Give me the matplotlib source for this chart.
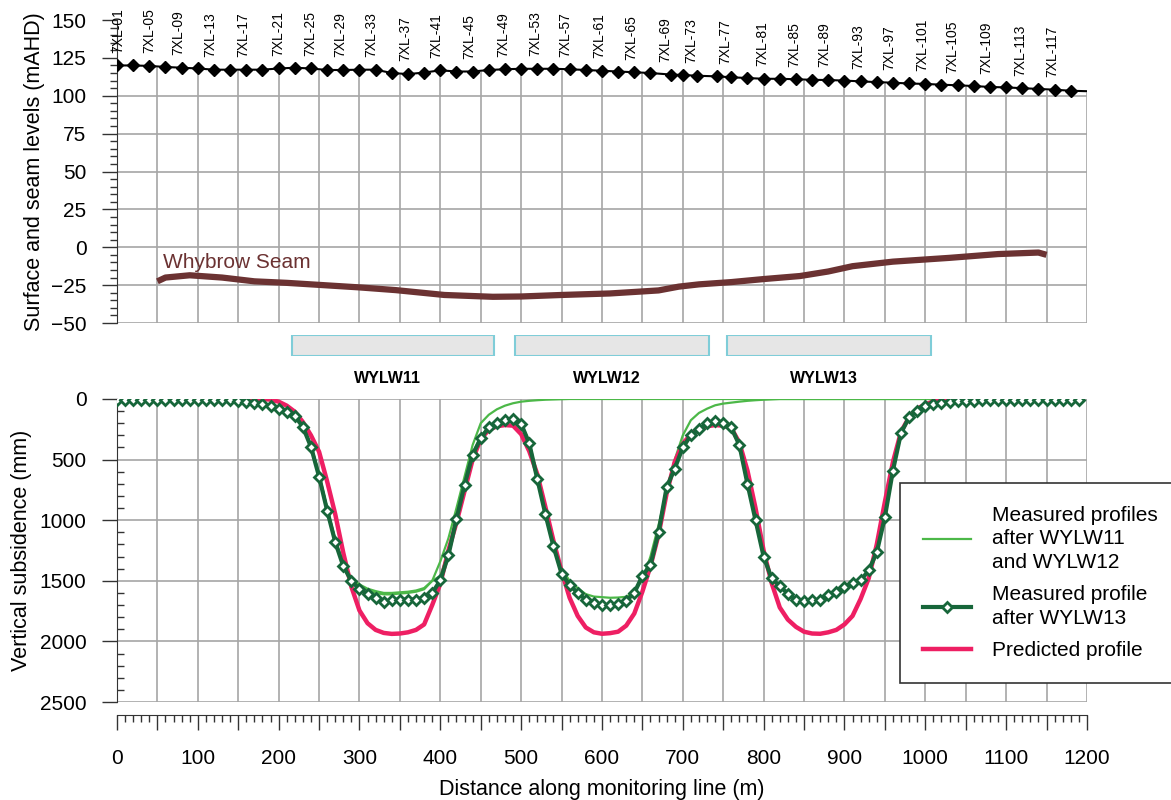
import numpy as np
import matplotlib
matplotlib.use('Agg')
import matplotlib.pyplot as plt
from matplotlib.patches import Rectangle
from matplotlib.ticker import MultipleLocator, FuncFormatter

plt.rcParams['font.family'] = ['Liberation Sans', 'DejaVu Sans']

# surface levels along the line (mAHD)
surf_x = [0, 20, 40, 60, 80, 100, 120, 140, 160, 180, 200, 220, 240, 260, 280, 300,
          320, 340, 360, 380, 400, 420, 440, 460, 480, 500, 520, 540, 560, 580, 600,
          620, 640, 660, 685, 700, 718, 742, 760, 780, 800, 820, 840, 860, 880, 900,
          920, 940, 960, 980, 1000, 1020, 1040, 1060, 1080, 1100, 1120, 1140, 1160, 1180]
surf_z = [120, 120, 119.7, 119, 118.5, 118, 117.2, 117.2, 117.2, 117.2, 118, 118.5, 118, 117, 117, 117.2,
          117.2, 115, 114.3, 115.3, 116.8, 116, 116, 117, 117.5, 117.8, 117.8, 117.8, 117.5, 117, 116.5,
          116, 115.5, 115, 114, 113.7, 113.2, 112.8, 112.2, 111.7, 111.2, 111.2, 110.9, 110.5, 110.4, 110,
          109.5, 109, 108.6, 108.1, 107.8, 107.3, 106.9, 106.4, 105.8, 105.5, 105, 104.5, 104, 103.3]
surf_end_x = 1200
surf_end_z = 103

peg_names = ['7XL-01', '7XL-05', '7XL-09', '7XL-13', '7XL-17', '7XL-21', '7XL-25', '7XL-29',
             '7XL-33', '7XL-37', '7XL-41', '7XL-45', '7XL-49', '7XL-53', '7XL-57', '7XL-61',
             '7XL-65', '7XL-69', '7XL-73', '7XL-77', '7XL-81', '7XL-85', '7XL-89', '7XL-93',
             '7XL-97', '7XL-101', '7XL-105', '7XL-109', '7XL-113', '7XL-117']
peg_x = [2, 40, 76, 116, 156, 199, 239, 276, 315, 357, 395, 436, 478, 518, 554, 597,
         636, 678, 710, 753, 798, 838, 875, 917, 955, 996, 1034, 1076, 1118, 1157]

# Whybrow seam floor
seam_x = [50, 60, 90, 130, 170, 210, 255, 300, 345, 405, 465, 500, 550, 610, 670, 695,
          720, 760, 800, 845, 880, 910, 960, 1030, 1090, 1140, 1150]
seam_z = [-22.5, -20, -18.5, -20, -22.5, -23.5, -25, -26.5, -28.3, -31.5, -32.7, -32.5, -31.5,
          -30.5, -28.5, -26, -24.5, -23, -21, -19, -16, -12.5, -9.5, -7, -4.5, -3.5, -5]

panel_names = ['WYLW11', 'WYLW12', 'WYLW13']
panel_start = [216, 492, 755]
panel_end = [466, 732, 1007]

# subsidence (mm) at 10 m spacing
dist = np.arange(0, 1200, 10)
meas13 = [8, 8, 8, 8, 8, 8, 8, 8, 8, 8, 8, 10, 10, 12, 12,
          15, 25, 35, 45, 60, 80, 105, 140, 230, 395,
          640, 920, 1180, 1380, 1500, 1570, 1610, 1645, 1675, 1660,
          1655, 1655, 1655, 1640, 1600, 1497, 1290, 990, 710, 460,
          325, 235, 195, 175, 168, 205, 365, 660, 950, 1215,
          1440, 1535, 1600, 1655, 1685, 1700, 1703, 1690, 1665, 1600,
          1460, 1370, 1100, 730, 575, 400, 300, 250, 200, 180,
          195, 235, 380, 700, 1000, 1300, 1480, 1545, 1605, 1655,
          1667, 1662, 1656, 1620, 1595, 1555, 1520, 1497, 1415, 1265,
          975, 590, 280, 150, 98, 60, 42, 32, 25, 20,
          18, 15, 12, 12, 10, 10, 8, 8, 8, 6,
          6, 6, 5, 5, 5]
predicted = [0, 0, 0, 0, 0, 0, 0, 0, 0, 0, 0, 0, 0, 0, 0,
             0, 0, 0, 0, 5, 22, 55, 105, 190, 300,
             435, 680, 950, 1270, 1550, 1745, 1850, 1905, 1930, 1938,
             1935, 1925, 1905, 1860, 1700, 1525, 1250, 1020, 760, 500,
             330, 255, 225, 215, 220, 290, 430, 620, 890, 1170,
             1420, 1640, 1790, 1885, 1925, 1937, 1932, 1920, 1870, 1770,
             1590, 1380, 1120, 780, 520, 370, 290, 250, 225, 215,
             220, 240, 360, 590, 900, 1250, 1520, 1720, 1820, 1880,
             1920, 1935, 1937, 1925, 1905, 1860, 1790, 1650, 1480, 1200,
             850, 520, 270, 150, 80, 45, 20, 8, 3, 0,
             0, 0, 0, 0, 0, 0, 0, 0, 0, 0,
             0, 0, 0, 0, 0]
after11 = [5, 5, 5, 5, 5, 5, 5, 5, 5, 5, 5, 5, 5, 5, 5,
           12, 20, 30, 40, 55, 75, 100, 135, 220, 380,
           620, 900, 1160, 1360, 1480, 1530, 1565, 1585, 1600, 1600,
           1595, 1590, 1580, 1560, 1500, 1340, 1150, 900, 640, 380,
           200, 130, 85, 55, 35, 22, 15, 10, 6, 4,
           2, 0, 0, 0, 0, 0, 0, 0, 0, 0,
           0, 0, 0, 0, 0, 0, 0, 0, 0, 0,
           0, 0, 0, 0, 0, 0, 0, 0, 0, 0,
           0, 0, 0, 0, 0, 0, 0, 0, 0, 0,
           0, 0, 0, 0, 0, 0, 0, 0, 0, 0,
           0, 0, 0, 0, 0, 0, 0, 0, 0, 0,
           0, 0, 0, 0, 0]
after12 = [5, 5, 5, 5, 5, 5, 5, 5, 5, 5, 5, 5, 5, 5, 5,
           12, 20, 30, 40, 55, 75, 100, 135, 220, 380,
           620, 900, 1160, 1360, 1490, 1545, 1580, 1600, 1612, 1612,
           1605, 1600, 1590, 1570, 1500, 1460, 1260, 980, 700, 450,
           310, 225, 185, 168, 165, 200, 350, 640, 930, 1190,
           1400, 1500, 1560, 1610, 1630, 1635, 1640, 1638, 1632, 1590,
           1490, 1300, 1040, 760, 500, 300, 175, 115, 80, 52,
           38, 30, 22, 15, 10, 6, 3, 0, 0, 0,
           0, 0, 0, 0, 0, 0, 0, 0, 0, 0,
           0, 0, 0, 0, 0, 0, 0, 0, 0, 0,
           0, 0, 0, 0, 0, 0, 0, 0, 0, 0,
           0, 0, 0, 0, 0]

grid_c = '#a6a6a6'
spine_c = '#333333'
pink = '#ee1f63'
dkgreen = '#17663a'
ltgreen = '#4cb848'
brown = '#6b3232'

fig = plt.figure(figsize=(11.71, 8), dpi=100)
ax1 = fig.add_axes([0.0999, 0.59625, 0.8283, 0.37875])
ax2 = fig.add_axes([0.0999, 0.1225, 0.8283, 0.37875])
axm = fig.add_axes([0.0999, 0.555, 0.8283, 0.02625])

# ---- top panel: surface and seam levels
ax1.set_xlim(0, 1200)
ax1.set_ylim(-50, 150)
for v in range(-50, 150, 25):
    ax1.axhline(v, color=grid_c, lw=1.2, zorder=0.5)
for x in range(50, 1201, 50):
    ax1.axvline(x, color=grid_c, lw=1.2, zorder=0.5)
sx = surf_x + [surf_end_x]
sz = surf_z + [surf_end_z]
ax1.fill_between(sx, sz, 150, color='white', zorder=0.8)
ax1.plot(sx, sz, color='black', lw=1.5, zorder=3)
ax1.plot(surf_x, surf_z, ls='none', marker='D', ms=6, color='black', zorder=4)
ax1.plot(seam_x, seam_z, color=brown, lw=4.5, solid_capstyle='butt', zorder=3)
ax1.text(57, -10, 'Whybrow Seam', color=brown, fontsize=15, va='center', ha='left')
for name, px in zip(peg_names, peg_x):
    ax1.annotate(name, (px, np.interp(px, sx, sz)), xytext=(0, 9), textcoords='offset points',
                 rotation=90, ha='center', va='bottom', fontsize=10, annotation_clip=False)
ax1.yaxis.set_major_locator(MultipleLocator(25))
ax1.yaxis.set_minor_locator(MultipleLocator(5))
ax1.tick_params(axis='y', which='major', length=11, width=1, labelsize=15, pad=11, color=spine_c)
ax1.tick_params(axis='y', which='minor', length=5, width=1, color=spine_c)
ax1.tick_params(axis='x', which='both', bottom=False, labelbottom=False)
for s in ['top', 'right', 'bottom']:
    ax1.spines[s].set_visible(False)
ax1.spines['left'].set_color(spine_c)
ax1.set_ylabel('Surface and seam levels (mAHD)', fontsize=15.5)
ax1.yaxis.set_label_coords(-0.074, 0.5)

# ---- longwall panels
axm.set_xlim(0, 1200)
axm.set_ylim(0, 1)
axm.axis('off')
for name, a, b in zip(panel_names, panel_start, panel_end):
    axm.add_patch(Rectangle((a, 0), b - a, 1, facecolor='#e6e6e6', edgecolor='#7fcdd8', lw=1.5))
    axm.text((a + b) / 2 - 6, -1.05, name, ha='center', va='center', fontsize=11.5, fontweight='bold')

# ---- bottom panel: subsidence
ax2.set_xlim(0, 1200)
ax2.set_ylim(2500, 0)
for v in range(0, 2501, 500):
    ax2.axhline(v, color=grid_c, lw=1.2, zorder=0.5)
for x in range(50, 1201, 50):
    ax2.axvline(x, color=grid_c, lw=1.2, zorder=0.5)
l11, = ax2.plot(dist, after11, color=ltgreen, lw=1.6, zorder=2)
ax2.plot(dist, after12, color=ltgreen, lw=1.6, zorder=2)
lp, = ax2.plot(dist, predicted, color=pink, lw=3.2, zorder=3)
l13, = ax2.plot(dist, meas13, color=dkgreen, lw=3, marker='D', ms=5.5, mfc='white',
                mec=dkgreen, mew=2, zorder=4)
ax2.xaxis.set_major_locator(MultipleLocator(50))
ax2.xaxis.set_minor_locator(MultipleLocator(10))
ax2.xaxis.set_major_formatter(FuncFormatter(lambda v, p: f'{v:.0f}' if v % 100 == 0 else ''))
ax2.yaxis.set_major_locator(MultipleLocator(500))
ax2.yaxis.set_minor_locator(MultipleLocator(100))
ax2.tick_params(axis='x', which='major', length=11, width=1, labelsize=15, pad=14, color=spine_c)
ax2.tick_params(axis='x', which='minor', length=5, width=1, color=spine_c)
ax2.tick_params(axis='y', which='major', length=11, width=1, labelsize=15, pad=11, color=spine_c)
ax2.tick_params(axis='y', which='minor', direction='in', length=5, width=1, color=spine_c)
for s in ['top', 'right']:
    ax2.spines[s].set_visible(False)
ax2.spines['bottom'].set_position(('outward', 9))
ax2.spines['bottom'].set_color(spine_c)
ax2.spines['left'].set_color(spine_c)
ax2.spines['left'].set_bounds(0, 2500)
ax2.set_ylabel('Vertical subsidence (mm)', fontsize=15.5)
ax2.yaxis.set_label_coords(-0.088, 0.5)
ax2.set_xlabel('Distance along monitoring line (m)', fontsize=15.5, labelpad=8)

leg = fig.legend([l11, l13, lp],
                 ['Measured profiles\nafter WYLW11\nand WYLW12',
                  'Measured profile\nafter WYLW13', 'Predicted profile'],
                 loc='upper left', bbox_to_anchor=(0.7686, 0.39625), borderaxespad=0,
                 fontsize=15, frameon=True, fancybox=False, framealpha=1, edgecolor=spine_c,
                 handlelength=2.3, handletextpad=1.0, borderpad=1.1, labelspacing=0.65)
leg.get_frame().set_linewidth(1.2)
for t in leg.get_texts():
    t.set_linespacing(1.3)

fig.savefig('out.png', dpi=100)
